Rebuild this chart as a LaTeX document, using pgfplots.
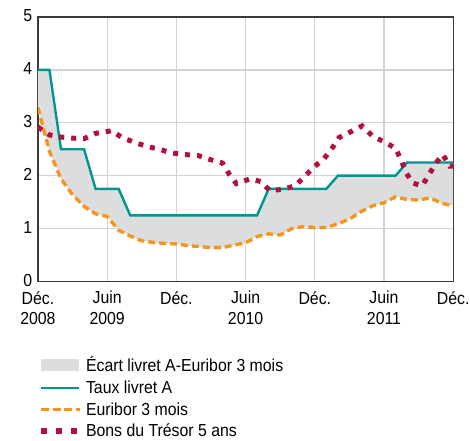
\documentclass[border=0pt]{standalone}
\usepackage{fontspec}
\setmainfont{Liberation Sans}[FakeStretch=0.91]
\usepackage{pgfplots}
\pgfplotsset{compat=1.18}
\usepgfplotslibrary{fillbetween}

\definecolor{livretc}{HTML}{00958E}
\definecolor{euriborc}{HTML}{F7941D}
\definecolor{bonsc}{HTML}{B5103C}
\definecolor{ecartc}{HTML}{DCDDDF}
\definecolor{gridc}{HTML}{D2D2D2}
\definecolor{framec}{HTML}{3A3A3A}

\newcommand\chartfont{\fontsize{17.5}{21}\selectfont}

\begin{document}
\begin{tikzpicture}
\begin{axis}[
  set layers,
  scale only axis, width=416bp, height=265bp,
  xmin=0, xmax=36, ymin=0, ymax=5,
  xtick={0,6,...,36},
  xticklabels={{Déc.\\[0bp]2008},{Juin\\[0bp]2009},{Déc.},{Juin\\[0bp]2010},{Déc.},{Juin\\[0bp]2011},{Déc.}},
  ytick={0,1,...,5},
  xticklabel style={align=center, font=\chartfont, inner sep=0.5bp, yshift=-9bp},
  yticklabel style={font=\chartfont, inner sep=0.5bp, xshift=-5bp, yshift=1bp},
  /pgf/number format/assume math mode=true,
  major tick length=0pt,
  grid=major, grid style={line width=1.3bp, color=gridc},
  axis line style={line width=1.3bp, color=framec},
  legend style={draw=none, fill=none, at={(0,-0.28)}, anchor=north west,
    inner sep=0pt, font=\chartfont, row sep=5.5bp,
    nodes={inner ysep=1bp, inner xsep=4bp}},
  legend cell align=left,
]
\addplot[name path=livret, draw=none, forget plot]
  coordinates {(0,4)(1,4)(2,2.5)(4,2.5)(5,1.75)(7,1.75)(8,1.25)(19,1.25)(20,1.75)(25,1.75)(26,2)(31,2)(32,2.25)(36,2.25)};
\addplot[name path=euribor, draw=none, forget plot]
  coordinates {(0,3.29)(1,2.46)(2,1.94)(3,1.64)(4,1.42)(5,1.28)(6,1.23)(7,0.97)(8,0.86)(9,0.77)(10,0.74)(11,0.72)(12,0.71)
    (13,0.68)(14,0.66)(15,0.64)(16,0.64)(17,0.69)(18,0.73)(19,0.85)(20,0.90)(21,0.88)(22,1.00)(23,1.04)(24,1.02)
    (25,1.02)(26,1.09)(27,1.18)(28,1.32)(29,1.43)(30,1.49)(31,1.60)(32,1.55)(33,1.54)(34,1.58)(35,1.48)(36,1.43)};

% ecart (fill)
\addplot[fill=ecartc, draw=none, on layer=axis background,
  legend image code/.code={\fill[ecartc] (0bp,-6bp) rectangle (38bp,6bp);}]
  fill between[of=livret and euribor];
\addlegendentry{Écart livret A-Euribor 3 mois}

% taux livret A
\addplot[livretc, line width=2.4bp,
  legend image code/.code={\draw[livretc, line width=2.4bp] (0bp,0bp) -- (38bp,0bp);}]
  coordinates {(0,4)(1,4)(2,2.5)(4,2.5)(5,1.75)(7,1.75)(8,1.25)(19,1.25)(20,1.75)(25,1.75)(26,2)(31,2)(32,2.25)(36,2.25)};
\addlegendentry{Taux livret A}

% euribor 3 mois
\addplot[euriborc, line width=3.4bp, dash pattern=on 7bp off 4bp,
  legend image code/.code={\draw[euriborc, line width=3.4bp, dash pattern=on 8bp off 3.5bp] (0bp,0bp) -- (39bp,0bp);}]
  coordinates {(0,3.29)(1,2.46)(2,1.94)(3,1.64)(4,1.42)(5,1.28)(6,1.23)(7,0.97)(8,0.86)(9,0.77)(10,0.74)(11,0.72)(12,0.71)
    (13,0.68)(14,0.66)(15,0.64)(16,0.64)(17,0.69)(18,0.73)(19,0.85)(20,0.90)(21,0.88)(22,1.00)(23,1.04)(24,1.02)
    (25,1.02)(26,1.09)(27,1.18)(28,1.32)(29,1.43)(30,1.49)(31,1.60)(32,1.55)(33,1.54)(34,1.58)(35,1.48)(36,1.43)};
\addlegendentry{Euribor 3 mois}

% bons du tresor 5 ans
\addplot[bonsc, line width=5bp, dash pattern=on 5bp off 7bp,
  legend image code/.code={\draw[bonsc, line width=6bp, dash pattern=on 6bp off 9bp] (0bp,0bp) -- (38bp,0bp);}]
  coordinates {(0,2.92)(1,2.77)(2,2.73)(3,2.71)(4,2.70)(5,2.80)(6.4,2.85)(7.3,2.72)(8.5,2.62)(9.5,2.55)(10.5,2.50)
    (11.6,2.43)(12.7,2.40)(13.9,2.38)(15,2.30)(16,2.24)(16.6,2.02)(17.2,1.85)(18.4,1.94)(19.3,1.89)(20.1,1.72)
    (21.2,1.74)(22.3,1.81)(23.1,1.98)(23.9,2.16)(24.8,2.32)(25.5,2.52)(26.1,2.72)(27.2,2.84)(28.1,2.94)(29,2.75)
    (30,2.64)(31,2.52)(31.5,2.29)(31.9,2.06)(32.5,1.86)(33.3,1.81)(33.9,2.02)(34.5,2.24)(35.1,2.40)(35.7,2.18)(36,2.18)};
\addlegendentry{Bons du Trésor 5 ans}
\end{axis}
% page margins matching the reference layout
\path ([xshift=-38bp,yshift=17bp]current axis.north west) rectangle ([xshift=16bp,yshift=-159bp]current axis.south east);
\end{tikzpicture}
\end{document}
